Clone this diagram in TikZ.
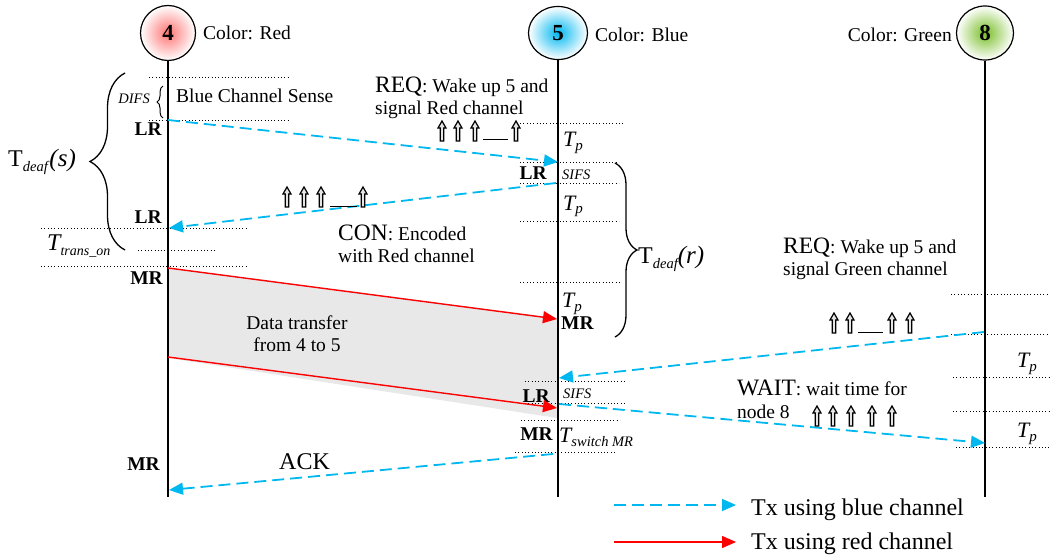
\documentclass[tikz,border=0pt]{standalone}
\usepackage{fontspec}
\setmainfont{Liberation Serif}
\usetikzlibrary{arrows.meta,decorations.pathreplacing,shapes.geometric}
\newcommand\fsz[1]{\fontsize{#1}{#1}\selectfont}
\newcommand\Tpp{{\fsz{22}\itshape T}\raisebox{-4pt}{\fsz{15}\itshape p}}
\definecolor{cyanc}{RGB}{0,184,240}
\definecolor{greenc}{RGB}{120,190,40}
\definecolor{grayfill}{RGB}{232,232,232}
\begin{document}
\begin{tikzpicture}[x=1pt,y=-1pt,
  lbl/.style={inner sep=0pt, font=\fsz{19.5}},
  bd/.style={inner sep=0pt, font=\fsz{19.5}\bfseries},
  sml/.style={inner sep=0pt, font=\fsz{14.5}\itshape},
  dotl/.style={line width=0.9pt, dash pattern=on 1pt off 2.3pt},
  life/.style={line width=1.3pt},
  bluearr/.style={draw=cyanc, line width=1.8pt, dash pattern=on 12pt off 6pt, -{Triangle[length=14pt,width=12pt]}},
  redarr/.style={draw=red, line width=1.4pt, -{Triangle[length=14pt,width=12pt]}},
  brc/.style={decorate, line width=1.3pt},
  nodec/.style={draw, line width=1.2pt, ellipse, inner sep=0pt, font=\fsz{23}\bfseries, shading=radial, outer color=white},
  uparrow/.pic={\draw[line width=1.2pt, fill=gray!20, line join=miter] (-1.8,0) -- (-1.8,-13) -- (-4,-13) -- (0,-20) -- (4,-13) -- (1.8,-13) -- (1.8,0) -- cycle;}
]
\useasboundingbox (0,0) rectangle (1050,559);

% gray data area
\fill[grayfill] (168,268) -- (557,318) -- (557,418) -- (168,358) -- cycle;

% nodes
\node[nodec, minimum width=55pt, minimum height=55pt, inner color=red!55] (n4) at (168,33) {4};
\node[nodec, minimum width=59pt, minimum height=53pt, inner color=cyanc] (n5) at (558,33) {5};
\node[nodec, minimum width=57pt, minimum height=54pt, inner color=greenc] (n8) at (985,33) {8};

\node[lbl, anchor=base west] (c4) at (203,40) {Color: Red};
\node[lbl, anchor=base west] (c5) at (595,42) {Color: Blue};
\node[lbl, anchor=base east] (c8) at (952,42) {Color: Green};

% lifelines
\coordinate (e4) at (168,497);
\coordinate (e5) at (558,497);
\coordinate (e8) at (985,497);
\draw[life] (n4.south) -- (e4);
\draw[life] (n5.south) -- (e5);
\draw[life] (n8.south) -- (e8);

% dotted lines node 4
\draw[dotl] (149,77) -- (288,77);
\draw[dotl] (149,120) -- (288,120);
\draw[dotl] (41,228) -- (246,228);
\draw[dotl] (138,250) -- (214,250);
\draw[dotl] (41,266) -- (246,266);
% dotted lines node 5
\draw[dotl] (520,123) -- (623,123);
\draw[dotl] (520,162) -- (619,162);
\draw[dotl] (520,183) -- (619,183);
\draw[dotl] (520,221) -- (619,221);
\draw[dotl] (520,282) -- (620,282);
\draw[dotl] (525,381) -- (625,381);
\draw[dotl] (525,403) -- (625,403);
\draw[dotl] (521,420) -- (620,420);
\draw[dotl] (515,452) -- (615,452);
% dotted lines node 8
\draw[dotl] (951,294) -- (1050,294);
\draw[dotl] (951,334) -- (1050,334);
\draw[dotl] (953,377) -- (1050,377);
\draw[dotl] (953,411) -- (1050,411);
\draw[dotl] (956,447) -- (1050,447);

% braces
\coordinate (bs1) at (125,250);
\coordinate (bs2) at (125,73);
\draw[brc, decoration={brace, amplitude=35pt}] (bs1) -- (bs2);
\coordinate (bd1) at (163,118);
\coordinate (bd2) at (163,86);
\draw[brc, line width=1pt, decoration={brace, amplitude=6pt}] (bd1) -- (bd2);
\coordinate (br1) at (615,163);
\coordinate (br2) at (615,337);
\draw[brc, decoration={brace, amplitude=22pt}] (br1) -- (br2);

% labels node 4
\node[sml, anchor=base east] (difs) at (150,104) {DIFS};
\node[lbl, anchor=base west] (bcs) at (176,103) {Blue Channel Sense};
\node[bd, anchor=base east] (lr1) at (162,136) {LR};
\node[bd, anchor=base east] (lr2) at (162,223) {LR};
\node[bd, anchor=base east] (mr1) at (163,284) {MR};
\node[bd, anchor=base east] (mr2) at (160,470) {MR};
\node[inner sep=0pt, anchor=base west] (tds) at (8,167) {{\fsz{24}T}\raisebox{-5pt}{\fsz{14.5}\itshape deaf}\,{\fsz{25}\itshape (s)}};
\node[inner sep=0pt, anchor=base west] (tto) at (47,250) {{\fsz{24}\itshape T}\raisebox{-5pt}{\fsz{14}\itshape trans\_on}};

% labels node 5
\node[inner sep=0pt, anchor=base west] (tp1) at (563,147) {\Tpp};
\node[bd, anchor=base east] (lr3) at (547,179) {LR};
\node[sml, anchor=base west] (sifs1) at (562,179) {SIFS};
\node[inner sep=0pt, anchor=base west] (tp2) at (563,210) {\Tpp};
\node[inner sep=0pt, anchor=base west] (tp3) at (562,307) {\Tpp};
\node[bd, anchor=base west] (mr3) at (561,329) {MR};
\node[bd, anchor=base east] (lr4) at (550,402) {LR};
\node[sml, anchor=base west] (sifs2) at (563,398) {SIFS};
\node[bd, anchor=base east] (mr4) at (553,440) {MR};
\node[inner sep=0pt, anchor=base west] (tsw) at (559,442) {{\fsz{22}\itshape T}\raisebox{-4pt}{\fsz{14.5}\itshape switch MR}};
\node[inner sep=0pt, anchor=base west] (tdr) at (638,263) {{\fsz{24}T}\raisebox{-5pt}{\fsz{14.5}\itshape deaf}{\fsz{25}\itshape (r)}};

% labels node 8
\node[inner sep=0pt, anchor=base west] (tp4) at (1017,367) {\Tpp};
\node[inner sep=0pt, anchor=base west] (tp5) at (1017,437) {\Tpp};

% message texts
\node[lbl, anchor=base west] (req1) at (375,93) {{\fsz{23.5}REQ}: Wake up 5 and};
\node[lbl, anchor=base west] (req2) at (375,115) {signal Red channel};
\node[lbl, anchor=base west] (con1) at (338,240) {{\fsz{23.5}CON}: Encoded};
\node[lbl, anchor=base west] (con2) at (338,262) {with Red channel};
\node[lbl, anchor=base west] (reqg1) at (783,253) {{\fsz{23.5}REQ}: Wake up 5 and};
\node[lbl, anchor=base west] (reqg2) at (783,275) {signal Green channel};
\node[lbl, anchor=base west] (wait1) at (737,395) {{\fsz{23.5}WAIT}: wait time for};
\node[lbl, anchor=base west] (wait2) at (737,418) {node 8};
\node[lbl, anchor=base] (dt1) at (297,329) {Data transfer};
\node[lbl, anchor=base] (dt2) at (297,351) {from 4 to 5};
\node[inner sep=0pt, anchor=base west, font=\fsz{24}] (ack) at (279,469) {ACK};

% event coordinates
\coordinate (a4s) at (168,120);
\coordinate (a5e) at (558,162);
\coordinate (b5s) at (556,183);
\coordinate (b4e) at (169,228);
\coordinate (r4s1) at (168,268);
\coordinate (r5e1) at (557,319);
\coordinate (r4s2) at (168,357);
\coordinate (r5e2) at (557,408);
\coordinate (g8s) at (984,332);
\coordinate (g5e) at (559,378);
\coordinate (w5s) at (559,404);
\coordinate (w8e) at (985,443);
\coordinate (k5s) at (553,454);
\coordinate (k4e) at (169,490);

% messages
\draw[bluearr] (a4s) -- (a5e);
\draw[bluearr] (b5s) -- (b4e);
\draw[redarr] (r4s1) -- (r5e1);
\draw[redarr] (r4s2) -- (r5e2);
\draw[bluearr] (g8s) -- (g5e);
\draw[bluearr] (w5s) -- (w8e);
\draw[bluearr] (k5s) -- (k4e);

% hollow up-arrow groups
\foreach \x in {442,458,475,516} \pic at (\x,141) {uparrow};
\draw[line width=1pt] (483,140) -- (508,140);
\foreach \x in {287,304,321,363} \pic at (\x,207) {uparrow};
\draw[line width=1pt] (330,206) -- (357,206);
\foreach \x in {834,850,892,910} \pic at (\x,333) {uparrow};
\draw[line width=1pt] (858,332) -- (883,332);
\foreach \x in {817,833,851,872,892} \pic at (\x,426) {uparrow};

% legend
\coordinate (lb1) at (614,505);
\coordinate (lb2) at (736,505);
\coordinate (lr1c) at (614,542);
\coordinate (lr2c) at (736,542);
\draw[bluearr] (lb1) -- (lb2);
\draw[redarr] (lr1c) -- (lr2c);
\node[inner sep=0pt, anchor=base west, font=\fsz{24}] (leg1) at (751,515) {Tx using blue channel};
\node[inner sep=0pt, anchor=base west, font=\fsz{24}] (leg2) at (751,549) {Tx using red channel};
\end{tikzpicture}
\end{document}
